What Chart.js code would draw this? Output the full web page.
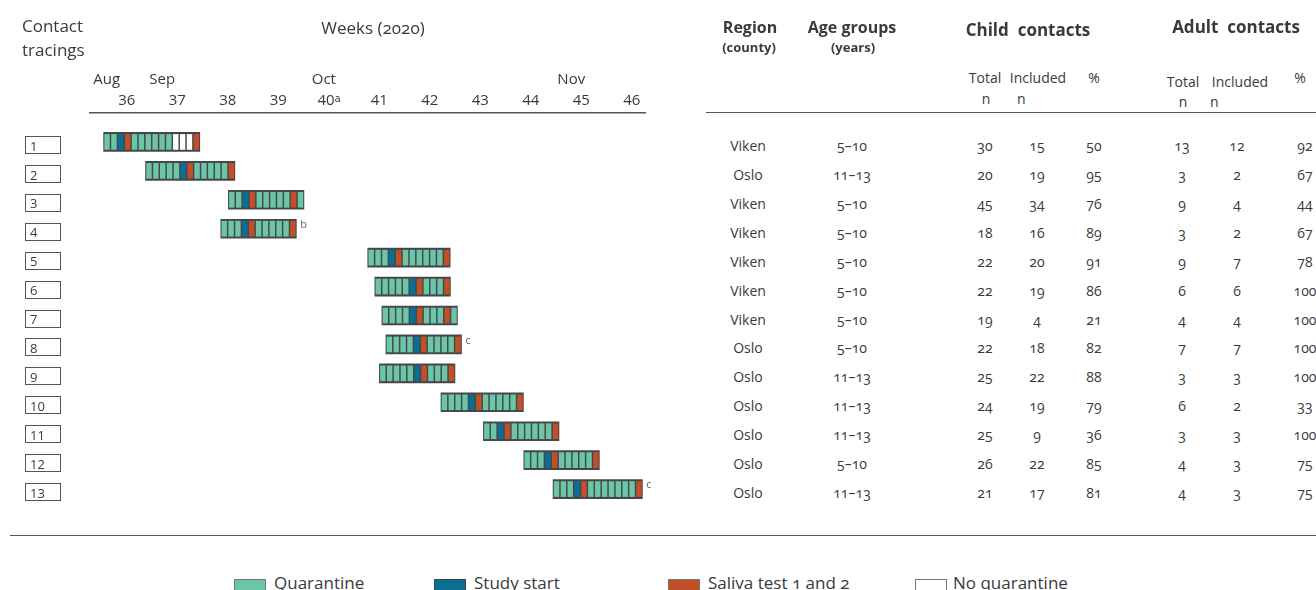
<!DOCTYPE html>
<html>
<head>
<meta charset="utf-8">
<script src="https://cdn.jsdelivr.net/npm/chart.js@4.4.1/dist/chart.umd.min.js"></script>
<style>
  body { margin: 0; width: 1316px; height: 590px; overflow: hidden; background: #fff;
         font-family: 'Open Sans', sans-serif; color: #3a3a3a; position: relative; }
  .onum { font-variant-numeric: oldstyle-nums; }
  .t { position: absolute; white-space: nowrap; transform: translateX(-50%); }
  .l { position: absolute; white-space: nowrap; }
  .b { font-weight: bold; }
  .cell { position: absolute; white-space: nowrap; transform: translate(-50%, -50%); font-size: 14px;
          font-variant-numeric: oldstyle-nums; }
  .sw { position: absolute; width: 30px; height: 11px; border: 1px solid #777; }
  .lg { position: absolute; font-size: 17px; top: 571px; }
  #wrap { position: absolute; left: 0; top: 0; width: 670px; height: 540px; font-variant-numeric: lining-nums; }
</style>
</head>
<body>
<div id="wrap"><canvas id="chart"></canvas></div>

<div class="l" style="left:22px;top:14px;font-size:17px;line-height:24px">Contact<br>tracings</div>
<div class="t onum" style="left:373px;top:16px;font-size:17px">Weeks (2020)</div>

<div class="t b" style="left:750px;top:16px;font-size:16px">Region</div>
<div class="t b" style="left:749px;top:38px;font-size:13px">(county)</div>
<div class="t b" style="left:852px;top:16px;font-size:16px">Age groups</div>
<div class="t b" style="left:853px;top:38px;font-size:13px">(years)</div>
<div class="t b" style="left:1028px;top:18px;font-size:17px">Child&nbsp; contacts</div>
<div class="t b" style="left:1236px;top:15px;font-size:17px">Adult&nbsp; contacts</div>

<div class="t" style="left:985px;top:68px;font-size:14px">Total</div>
<div class="t" style="left:986px;top:89px;font-size:14px">n</div>
<div class="t" style="left:1038px;top:68px;font-size:14px">Included</div>
<div class="l" style="left:1017px;top:89px;font-size:14px">n</div>
<div class="t" style="left:1094px;top:68px;font-size:14px">%</div>
<div class="t" style="left:1183px;top:72px;font-size:14px">Total</div>
<div class="t" style="left:1183px;top:92px;font-size:14px">n</div>
<div class="t" style="left:1240px;top:72px;font-size:14px">Included</div>
<div class="l" style="left:1210px;top:92px;font-size:14px">n</div>
<div class="t" style="left:1300px;top:68px;font-size:14px">%</div>

<div style="position:absolute;left:706px;top:112px;width:610px;height:0;border-top:1.5px solid #555"></div>
<div style="position:absolute;left:10px;top:535px;width:1306px;height:0;border-top:1.5px solid #555"></div>

<div id="table"></div>

<div class="sw" style="left:234px;top:579px;background:#6cc5a5"></div>
<div class="lg" style="left:274px">Quarantine</div>
<div class="sw" style="left:434px;top:579px;background:#0a6f94;border-color:#444"></div>
<div class="lg" style="left:474px">Study start</div>
<div class="sw" style="left:668px;top:579px;background:#c24f28"></div>
<div class="lg onum" style="left:708px">Saliva test 1 and 2</div>
<div class="sw" style="left:915px;top:579px;background:#fff"></div>
<div class="lg" style="left:953px">No quarantine</div>

<script>
// Данные
const tracings = ['1', '2', '3', '4', '5', '6', '7', '8', '9', '10', '11', '12', '13'];
const weeks = [36, 37, 38, 39, 40, 41, 42, 43, 44, 45, 46];
const weekLabels = ['36', '37', '38', '39', '40ᵃ', '41', '42', '43', '44', '45', '46'];
const months = ['Aug', 'Sep', 'Oct', 'Nov'];
const monthAt = [35.6, 36.7, 39.9, 44.8];

// начало каждой цепочки (в неделях) и дни: q карантин, s старт, t тест, n без карантина
const starts = [35.54, 36.37, 38.01, 37.86, 40.77, 40.91, 41.05, 41.13, 41.0, 42.22, 43.06, 43.86, 44.44];
const days = [
  'qqstqqqqqqnnnt',
  'qqqqqstqqqqqt',
  'qqstqqqqqtq',
  'qqqstqqqqqt',
  'qqqstqqqqqqt',
  'qqqqqstqqqt',
  'qqqqstqqqtq',
  'qqqqstqqqqt',
  'qqqqqstqqqt',
  'qqqqstqqqqqt',
  'qqstqqqqqqt',
  'qqqstqqqqqt',
  'qqqstqqqqqqqt'
];
const notes = ['', '', '', 'b', '', '', '', 'c', '', '', '', '', 'c'];

const regions = ['Viken', 'Oslo', 'Viken', 'Viken', 'Viken', 'Viken', 'Viken', 'Oslo', 'Oslo', 'Oslo', 'Oslo', 'Oslo', 'Oslo'];
const ages = ['5–10', '11–13', '5–10', '5–10', '5–10', '5–10', '5–10', '5–10', '11–13', '11–13', '11–13', '5–10', '11–13'];
const childTotal = [30, 20, 45, 18, 22, 22, 19, 22, 25, 24, 25, 26, 21];
const childIncluded = [15, 19, 34, 16, 20, 19, 4, 18, 22, 19, 9, 22, 17];
const childPct = [50, 95, 76, 89, 91, 86, 21, 82, 88, 79, 36, 85, 81];
const adultTotal = [13, 3, 9, 3, 9, 6, 4, 7, 3, 6, 3, 4, 4];
const adultIncluded = [12, 2, 4, 2, 7, 6, 4, 7, 3, 2, 3, 3, 3];
const adultPct = [92, 67, 44, 67, 78, 100, 100, 100, 100, 33, 100, 75, 75];

const colorOf = { q: '#6cc5a5', s: '#0a6f94', t: '#c24f28', n: '#ffffff' };
const CELL = 0.136;   // ширина одного дня на оси
const GAP = 0.021;
const TEXT = '#3a3a3a';
const FONT = "'Open Sans', sans-serif";

const datasets = [{
  data: starts.map((s, i) => ({ y: i + 1, x: [s, s + days[i].length * CELL] })),
  backgroundColor: '#44484c',
  barThickness: 19,
  order: 2
}];
const maxLen = Math.max(...days.map(d => d.length));
for (let k = 0; k < maxLen; k++) {
  const data = [];
  const colors = [];
  days.forEach((d, i) => {
    if (k >= d.length) return;
    data.push({ y: i + 1, x: [starts[i] + k * CELL + GAP, starts[i] + (k + 1) * CELL - GAP] });
    colors.push(colorOf[d[k]]);
  });
  datasets.push({ data, backgroundColor: colors, barThickness: 15, order: 1 });
}

// рамки вокруг номеров и сноски
const extras = {
  id: 'extras',
  afterDraw(chart) {
    const { ctx, scales: { x, y } } = chart;
    ctx.save();
    ctx.strokeStyle = '#555';
    ctx.lineWidth = 1;
    y.ticks.forEach(t => {
      const py = Math.round(y.getPixelForValue(t.value)) + 3;
      ctx.strokeRect(25.5, py - 8.5, 35, 17);
    });
    ctx.fillStyle = '#666';
    ctx.font = '11px ' + FONT;
    ctx.textBaseline = 'middle';
    notes.forEach((n, i) => {
      if (!n) return;
      const xe = x.getPixelForValue(starts[i] + days[i].length * CELL);
      ctx.fillText(n, xe + 4, y.getPixelForValue(i + 1) - 4);
    });
    ctx.restore();
  }
};

new Chart(document.getElementById('chart'), {
  type: 'bar',
  data: { datasets },
  plugins: [extras],
  options: {
    indexAxis: 'y',
    responsive: true,
    maintainAspectRatio: false,
    animation: false,
    grouped: false,
    layout: { padding: { left: 30, top: 64, right: 25, bottom: 22 } },
    plugins: { legend: { display: false }, tooltip: { enabled: false } },
    scales: {
      y: {
        type: 'linear',
        reverse: true,
        offset: false,
        min: 0,
        max: 14,
        afterBuildTicks: s => { s.ticks = tracings.map((_, i) => ({ value: i + 1 })); },
        afterFit: s => { s.width = 60; },
        ticks: {
          callback: (v, i) => tracings[i],
          crossAlign: 'far',
          labelOffset: 5,
          color: TEXT,
          font: { family: FONT, size: 13 }
        },
        grid: { display: false, drawTicks: false },
        border: { display: false }
      },
      x: {
        type: 'linear',
        position: 'top',
        min: 35.27,
        max: 46.26,
        weight: 0,
        afterBuildTicks: s => { s.ticks = weeks.map(w => ({ value: w })); },
        afterFit: s => { s.height = 24; },
        ticks: {
          callback: (v, i) => weekLabels[i],
          autoSkip: false,
          maxRotation: 0,
          padding: 3,
          color: TEXT,
          font: { family: FONT, size: 15 }
        },
        grid: { display: false, drawTicks: false },
        border: { display: true, color: '#555', width: 1.5 }
      },
      x2: {
        type: 'linear',
        position: 'top',
        min: 35.27,
        max: 46.26,
        weight: 1,
        afterBuildTicks: s => { s.ticks = monthAt.map(m => ({ value: m })); },
        afterFit: s => { s.height = 25; },
        ticks: {
          callback: (v, i) => months[i],
          autoSkip: false,
          maxRotation: 0,
          padding: 0,
          color: TEXT,
          font: { family: FONT, size: 15 }
        },
        grid: { display: false, drawTicks: false },
        border: { display: false }
      }
    }
  }
});

// таблица справа
const columns = [
  [regions, 748], [ages, 852],
  [childTotal, 985], [childIncluded, 1037], [childPct, 1094],
  [adultTotal, 1182], [adultIncluded, 1237], [adultPct, 1305]
];
const table = document.getElementById('table');
tracings.forEach((_, i) => {
  const rowY = 113 + (i + 1) * 28.93 + 3;
  columns.forEach(([vals, cx]) => {
    const d = document.createElement('div');
    d.className = 'cell';
    d.style.left = cx + 'px';
    d.style.top = rowY + 'px';
    d.textContent = vals[i];
    table.appendChild(d);
  });
});
</script>
</body>
</html>
